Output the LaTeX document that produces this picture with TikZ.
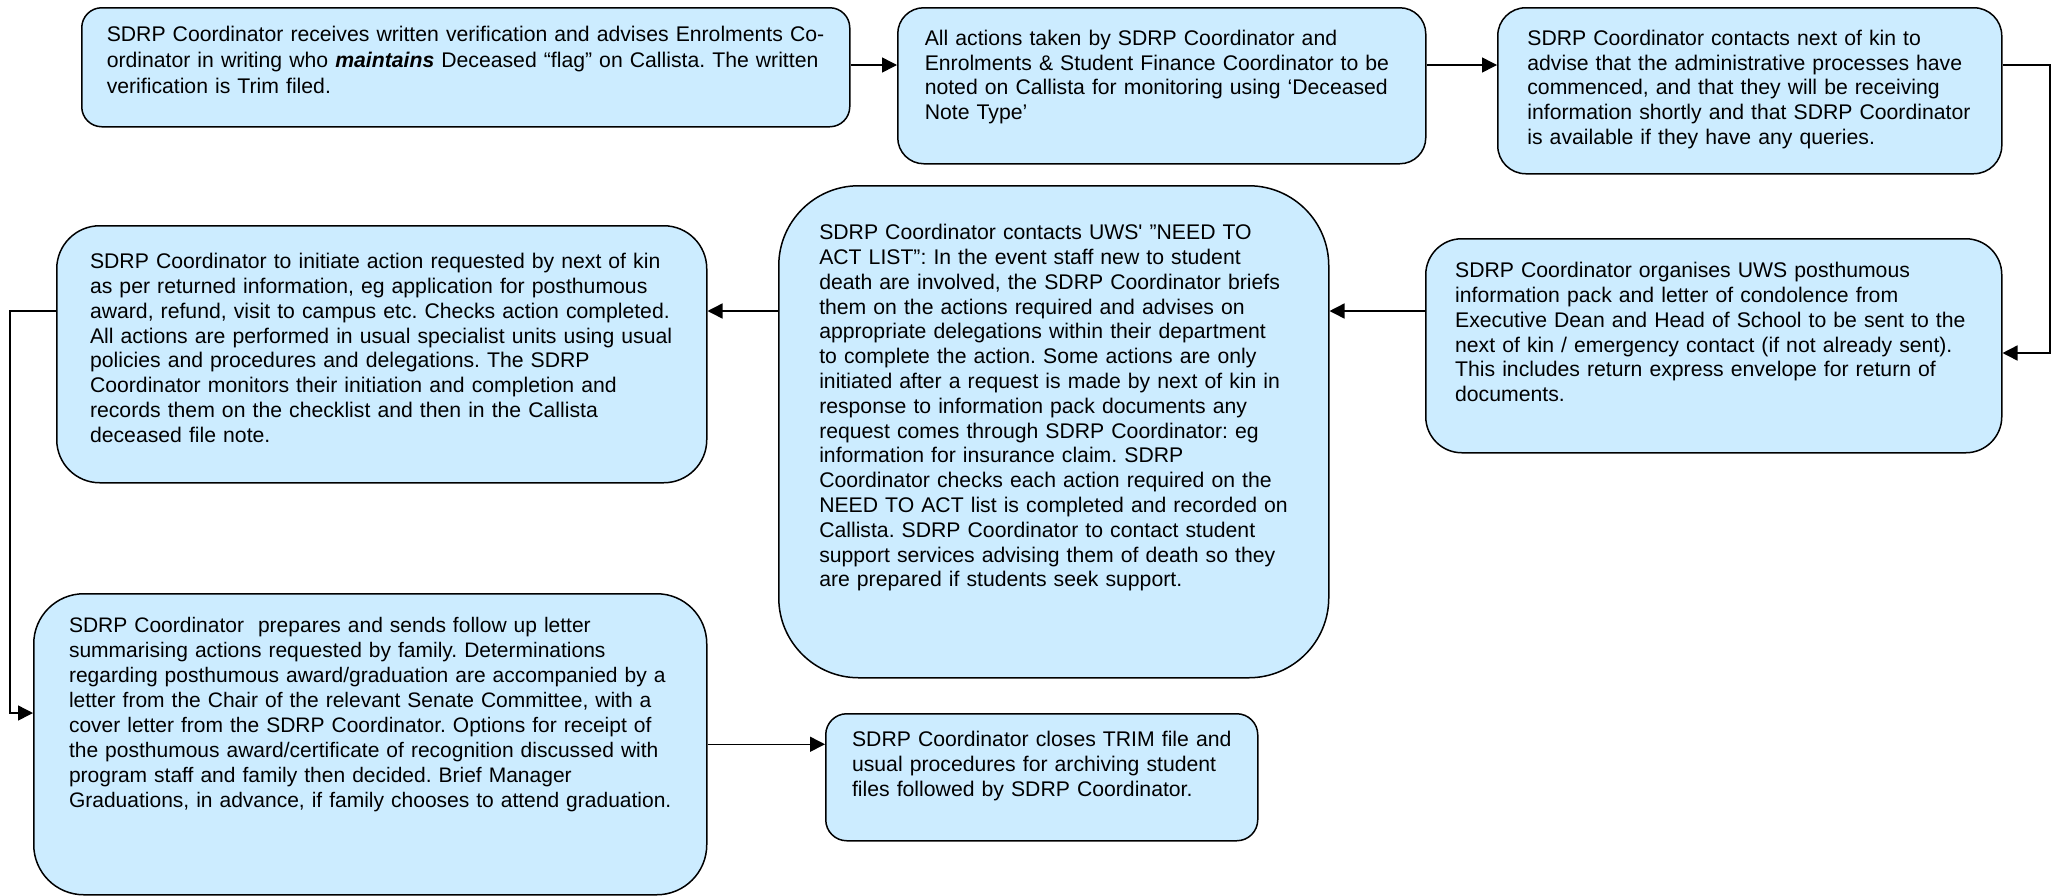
\documentclass[tikz,border=0pt]{standalone}
\usepackage{fontspec}
\setmainfont{Liberation Sans}
\usetikzlibrary{arrows.meta}
\definecolor{boxblue}{HTML}{CCECFF}
\frenchspacing

\begin{document}
\begin{tikzpicture}[x=0.5pt, y=-0.5pt]
        \tikzstyle{stepbox}=[draw, line width=0.75pt, fill=boxblue, anchor=north west, align=left, text height=7.7pt, font=\fontsize{10.6}{12.4}\selectfont]
        \tikzstyle{flow}=[line width=0.75pt, -{Triangle[length=7.5pt, width=7.5pt]}]

        \useasboundingbox (0,0) rectangle (2060,895);

% Deceased student process, top row runs left to right, the rest back to the left.

        \node[stepbox, rounded corners=10pt, inner xsep=12.5pt, inner ysep=9.05pt, text width=359pt, text depth=33.7pt, font=\fontsize{10.6}{13}\selectfont] (verify) at (81,7) {SDRP Coordinator receives written verification and advises Enrolments Co-\\ordinator in writing who \textbf{\textit{maintains}} Deceased “flag” on Callista. The written\\verification is Trim filed.};
        \node[stepbox, rounded corners=13pt, inner xsep=13.5pt, inner ysep=11.05pt, text width=237pt, text depth=48.2pt] (notes) at (897,7) {All actions taken by SDRP Coordinator and\\Enrolments \& Student Finance Coordinator to be\\noted on Callista for monitoring using ‘Deceased\\Note Type’};
        \node[stepbox, rounded corners=14pt, inner xsep=14.8pt, inner ysep=11.05pt, text width=222.4pt, text depth=53.2pt] (kin) at (1497,7) {SDRP Coordinator contacts next of kin to\\advise that the administrative processes have\\commenced, and that they will be receiving\\information shortly and that SDRP Coordinator\\is available if they have any queries.};
        \node[stepbox, rounded corners=18pt, inner xsep=14.7pt, inner ysep=11.8pt, text width=258.6pt, text depth=75.7pt] (pack) at (1425,238) {SDRP Coordinator organises UWS posthumous\\information pack and letter of condolence from\\Executive Dean and Head of School to be sent to the\\next of kin / emergency contact (if not already sent).\\This includes return express envelope for return of\\documents.};
        \node[stepbox, rounded corners=40pt, inner xsep=20.25pt, inner ysep=19.3pt, text width=234.5pt, text depth=199.7pt] (needact) at (778,185) {SDRP Coordinator contacts UWS\textquotesingle{} ”NEED TO\\ACT LIST”: In the event staff new to student\\death are involved, the SDRP Coordinator briefs\\them on the actions required and advises on\\appropriate delegations within their department\\to complete the action. Some actions are only\\initiated after a request is made by next of kin in\\response to information pack documents any\\request comes through SDRP Coordinator: eg\\information for insurance claim. SDRP\\Coordinator checks each action required on the\\NEED TO ACT list is completed and recorded on\\Callista. SDRP Coordinator to contact student\\support services advising them of death so they\\are prepared if students seek support.};
        \node[stepbox, rounded corners=21.5pt, inner xsep=16.65pt, inner ysep=13.8pt, text width=291.7pt, text depth=93.2pt] (initiate) at (56,225) {SDRP Coordinator to initiate action requested by next of kin\\as per returned information, eg application for posthumous\\award, refund, visit to campus etc. Checks action completed.\\All actions are performed in usual specialist units using usual\\policies and procedures and delegations. The SDRP\\Coordinator monitors their initiation and completion and\\records them on the checklist and then in the Callista\\deceased file note.};
        \node[stepbox, rounded corners=25pt, inner xsep=17.65pt, inner ysep=11.8pt, text width=301.2pt, text depth=119.2pt, font=\fontsize{10.5}{12.5}\selectfont] (followup) at (33,593) {SDRP Coordinator~ prepares and sends follow up letter\\summarising actions requested by family. Determinations\\regarding posthumous award/graduation are accompanied by a\\letter from the Chair of the relevant Senate Committee, with a\\cover letter from the SDRP Coordinator. Options for receipt of\\the posthumous award/certificate of recognition discussed with\\program staff and family then decided. Brief Manager\\Graduations, in advance, if family chooses to attend graduation.};
        \node[stepbox, rounded corners=10.5pt, inner xsep=13.15pt, inner ysep=8.8pt, text width=189.7pt, text depth=38.2pt] (close) at (825,713) {SDRP Coordinator closes TRIM file and\\usual procedures for archiving student\\files followed by SDRP Coordinator.};

        \coordinate (row1) at (0,65);
        \coordinate (row2) at (0,311);
        \coordinate (rbend) at (2050,353);
        \coordinate (lbend) at (10,713);

        \draw[flow] (verify.east |- row1) -- (notes.west |- row1);
        \draw[flow] (notes.east |- row1) -- (kin.west |- row1);
        \draw[flow] (kin.east |- row1) -| (rbend) -- (rbend -| pack.east);
        \draw[flow] (pack.west |- row2) -- (needact.east |- row2);
        \draw[flow] (needact.west |- row2) -- (initiate.east |- row2);
        \draw[flow] (initiate.west |- row2) -| (lbend) -- (lbend -| followup.west);
        \draw[flow] (followup.east) -- (followup.east -| close.west);

    \end{tikzpicture}
\end{document}
